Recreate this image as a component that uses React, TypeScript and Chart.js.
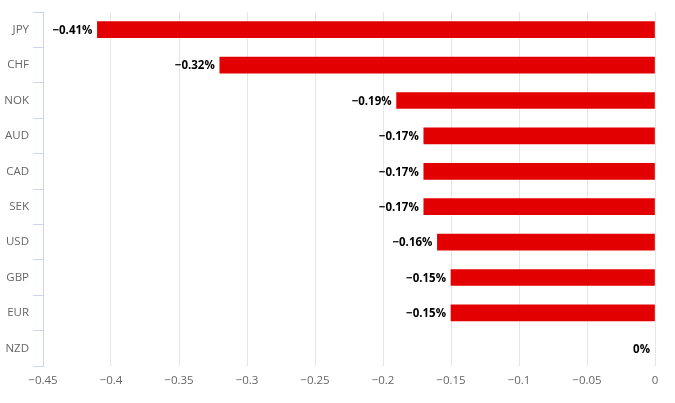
import React, { useEffect, useRef } from "react";
import { Chart, registerables } from "chart.js";

Chart.register(...registerables);

const categories = ["JPY", "CHF", "NOK", "AUD", "CAD", "SEK", "USD", "GBP", "EUR", "NZD"];
const values = [-0.41, -0.32, -0.19, -0.17, -0.17, -0.17, -0.16, -0.15, -0.15, 0];
const xMin = -0.45;
const xMax = 0;
const xStep = 0.05;

const FONT = "'Open Sans', sans-serif";

const fmtNum = (v: number) => {
  const r = Math.round(v * 100) / 100;
  return String(r).replace("-", "\u2212");
};

const labelPlugin = {
  id: "barLabels",
  afterDatasetsDraw(chart: any) {
    const ctx = chart.ctx;
    const meta = chart.getDatasetMeta(0);
    ctx.save();
    ctx.font = `bold 11.5px ${FONT}`;
    ctx.fillStyle = "#000000";
    ctx.textAlign = "right";
    ctx.textBaseline = "middle";
    meta.data.forEach((el: any, i: number) => {
      const v = values[i];
      ctx.fillText(fmtNum(v) + "%", el.x - 5, el.y + 1);
    });
    ctx.restore();
  },
};

export default function App() {
  const ref = useRef<HTMLCanvasElement>(null);
  useEffect(() => {
    if (!ref.current) return;
    const chart = new Chart(ref.current, {
      type: "bar",
      data: {
        labels: categories,
        datasets: [
          {
            data: values,
            backgroundColor: values.map((v) => (v === 0 ? "rgba(0,0,0,0)" : "#e30000")),
            borderWidth: 0,
            barThickness: 16,
          },
        ],
      },
      plugins: [labelPlugin],
      options: {
        indexAxis: "y",
        animation: false,
        responsive: true,
        maintainAspectRatio: false,
        layout: { padding: { top: 12, right: 20, bottom: 0, left: 0 } },
        plugins: {
          legend: { display: false },
          tooltip: { enabled: false },
        },
        scales: {
          x: {
            type: "linear",
            min: xMin,
            max: xMax,
            ticks: {
              stepSize: xStep,
              color: "#666666",
              font: { family: FONT, size: 11.5 },
              padding: 8,
              callback: (v: any) => fmtNum(Number(v)),
            },
            grid: {
              color: (c: any) => (c.index === 0 ? "rgba(0,0,0,0)" : "#e6e6e6"),
              drawTicks: false,
            },
            border: { display: false },
            afterFit: (s: any) => {
              s.height = 37;
            },
          },
          y: {
            type: "category",
            offset: true,
            ticks: {
              color: "#666666",
              font: { family: FONT, size: 11.5 },
              padding: 4,
            },
            grid: {
              offset: true,
              drawOnChartArea: false,
              drawTicks: true,
              tickLength: 10,
              color: "#ccd6eb",
            },
            border: { display: true, color: "#ccd6eb", width: 1 },
            afterFit: (s: any) => {
              s.width = 43;
            },
          },
        },
      },
    });
    return () => chart.destroy();
  }, []);
  return (
    <div style={{ position: "absolute", left: 0, top: 0, width: 675, height: 403, background: "#fff" }}>
      <canvas ref={ref} />
    </div>
  );
}
